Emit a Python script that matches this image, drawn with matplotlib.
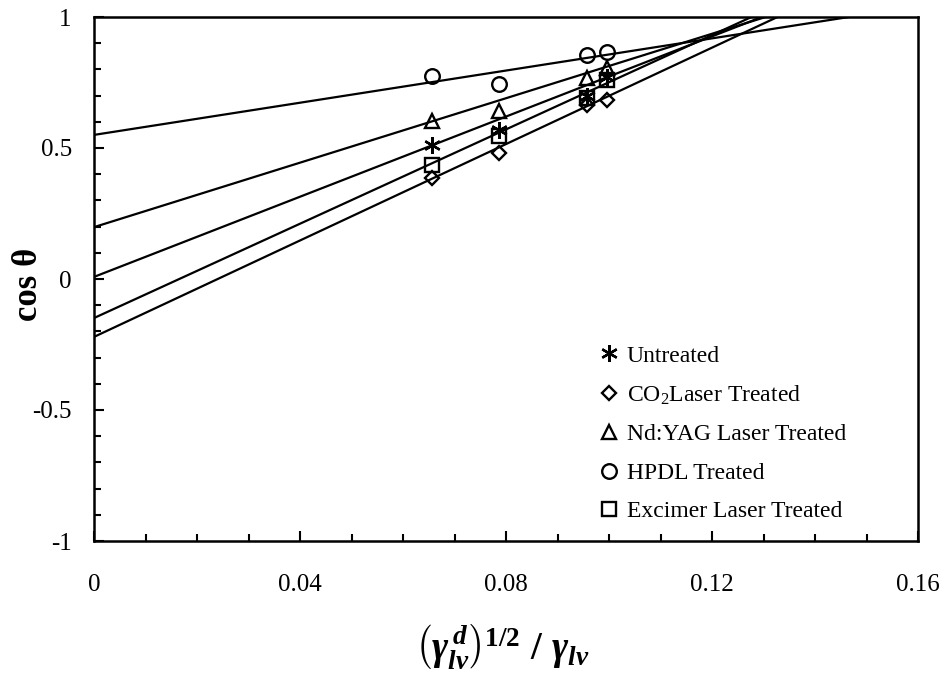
import numpy as np
import matplotlib
matplotlib.use("Agg")
import matplotlib.pyplot as plt
from matplotlib.ticker import MultipleLocator, FixedFormatter, FixedLocator

plt.rcParams['font.family'] = ['Liberation Serif', 'DejaVu Serif']
plt.rcParams['mathtext.fontset'] = 'custom'
plt.rcParams['mathtext.rm'] = 'Liberation Serif'
plt.rcParams['mathtext.it'] = 'Liberation Serif:italic:bold'
plt.rcParams['mathtext.bf'] = 'Liberation Serif:bold'

# data
x_vals = [0.0657, 0.0786, 0.0957, 0.0996]
untreated = [0.511, 0.569, 0.700, 0.770]
co2 = [0.385, 0.482, 0.665, 0.683]
ndyag = [0.603, 0.642, 0.767, 0.806]
hpdl = [0.775, 0.744, 0.855, 0.866]
excimer = [0.435, 0.547, 0.690, 0.760]

# fitted lines (intercept, slope)
fit_untreated = (0.008, 7.65)
fit_co2 = (-0.221, 9.2)
fit_ndyag = (0.198, 6.15)
fit_hpdl = (0.55, 3.07)
fit_excimer = (-0.149, 9.0)

labels = ["Untreated", "CO$_2$Laser Treated", "Nd:YAG Laser Treated",
          "HPDL Treated", "Excimer Laser Treated"]

fig = plt.figure(figsize=(9.47, 6.78), dpi=100)
ax = fig.add_axes([94/947, 1-541/678, 824/947, 524/678])

series = [(untreated, fit_untreated, (6, 2, 0), 12),
          (co2, fit_co2, 'D', 7.5),
          (ndyag, fit_ndyag, '^', 10.5),
          (hpdl, fit_hpdl, 'o', 10.5),
          (excimer, fit_excimer, 's', 10.5)]

xl = np.array([0.0, 0.16])
for (ys, (b, m), mk, ms), lab in zip(series, labels):
    ax.plot(xl, b + m*xl, color='black', lw=1.6, zorder=2)
    ax.plot(x_vals, ys, ls='none', marker=mk, ms=ms, mfc='none', mec='black',
            mew=1.7, label=lab, zorder=3)

ax.set_xlim(0, 0.16)
ax.set_ylim(-1, 1)
ax.xaxis.set_major_locator(FixedLocator([0, 0.04, 0.08, 0.12, 0.16]))
ax.xaxis.set_major_formatter(FixedFormatter(["0", "0.04", "0.08", "0.12", "0.16"]))
ax.xaxis.set_minor_locator(MultipleLocator(0.01))
ax.yaxis.set_major_locator(FixedLocator([-1, -0.5, 0, 0.5, 1]))
ax.yaxis.set_major_formatter(FixedFormatter(["-1", "-0.5", "0", "0.5", "1"]))
ax.yaxis.set_minor_locator(MultipleLocator(0.1))

ax.tick_params(which='both', direction='in', top=False, right=False, width=1.5)
ax.tick_params(which='major', length=7, labelsize=18)
ax.tick_params(axis='x', which='major', pad=24)
ax.tick_params(axis='y', which='major', pad=16)
ax.tick_params(which='minor', length=5)
for sp in ax.spines.values():
    sp.set_linewidth(1.8)

ax.set_ylabel(r"cos θ", fontsize=25, fontweight='bold')
ax.yaxis.set_label_coords(-0.06, 0.49)
ax.set_xlabel(r'$\left(\gamma^{\,d}_{lv}\right)^{\mathbf{1/2}}\mathbf{\ /\ }\gamma_{lv}$',
              fontsize=28)
ax.xaxis.set_label_coords(0.495, -0.155)

ax.legend(loc='upper left', bbox_to_anchor=(603/947, 1-345/678),
          bbox_transform=fig.transFigure, frameon=False, fontsize=17,
          handlelength=0.5, handletextpad=0.5, labelspacing=0.72,
          borderpad=0, borderaxespad=0)

fig.savefig("out.png", dpi=100)
